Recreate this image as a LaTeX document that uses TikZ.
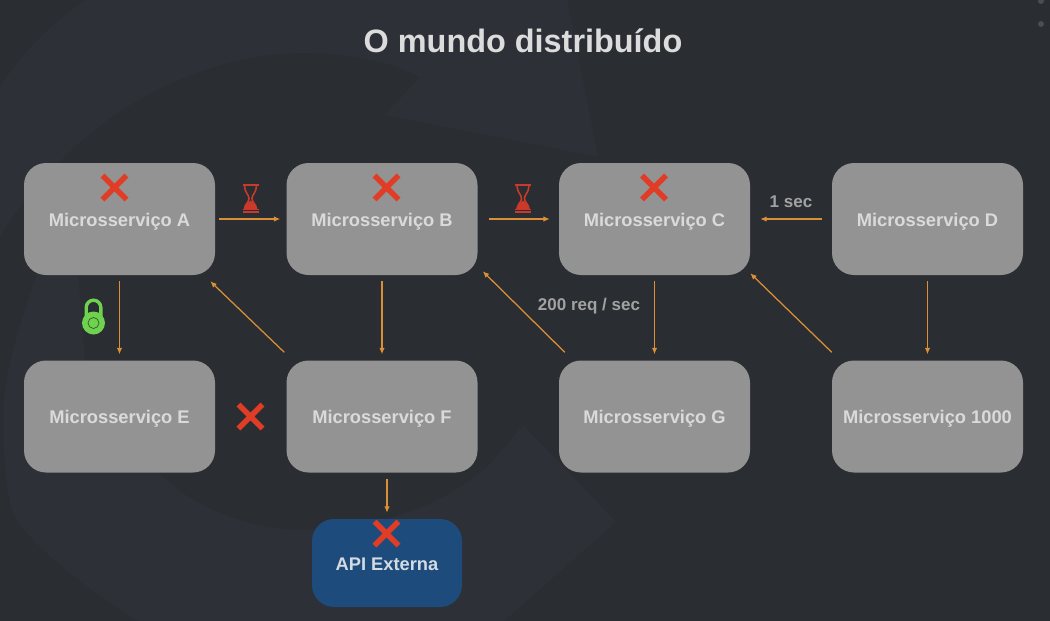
\documentclass[tikz,border=0pt]{standalone}
\usepackage{fontspec}
\setmainfont{Liberation Sans}
\usetikzlibrary{arrows.meta}
\definecolor{bgdark}{HTML}{2A2D31}
\definecolor{bglight}{HTML}{2D3036}
\definecolor{boxgrey}{HTML}{939393}
\definecolor{boxtxt}{HTML}{DADADA}
\definecolor{titletxt}{HTML}{DCDCDC}
\definecolor{apiblue}{HTML}{1C4B7C}
\definecolor{apitxt}{HTML}{D3DAE2}
\definecolor{arrowc}{HTML}{DB9038}
\definecolor{crossred}{HTML}{E03C26}
\definecolor{glassred}{HTML}{CB392B}
\definecolor{lockgreen}{HTML}{6FD24E}
\definecolor{lockline}{HTML}{2F5A2A}
\definecolor{lbl}{HTML}{A2A2A2}
\definecolor{dotc}{HTML}{4A4D52}
\tikzset{
  svc/.style={draw=none,fill=boxgrey,rounded corners=22pt,minimum width=191pt,minimum height=112pt,inner sep=0pt,text=boxtxt,font=\fontsize{18.3}{20}\selectfont\bfseries,text height=17pt,text depth=3pt},
  apibox/.style={svc,fill=apiblue,text=apitxt,minimum width=150pt,minimum height=88pt},
  arr/.style={draw=arrowc,line width=1.25pt,-{Latex[length=6.5pt,width=5.5pt]}},
  xmark/.pic={\draw[crossred,line width=5.4pt] (-12,-12)--(12,12) (-12,12)--(12,-12);},
  glass/.pic={
    \draw[glassred,line width=2pt] (-8,-13.5)--(8,-13.5) (-8,13.5)--(8,13.5);
    \draw[glassred,line width=1pt] (-8,10.6)--(8,10.6);
    \draw[glassred,line width=1.6pt] (-6,-13) .. controls (-6,-6) and (-1.5,-4) .. (-1.5,0) .. controls (-1.5,4) and (-6,6) .. (-6,10.5) -- (6,10.5) .. controls (6,6) and (1.5,4) .. (1.5,0) .. controls (1.5,-4) and (6,-6) .. (6,-13);
    \fill[glassred] (0,2) .. controls (2,4) and (6,7) .. (6,10.5) -- (-6,10.5) .. controls (-6,7) and (-2,4) .. (0,2) -- cycle;
  },
  lockpic/.pic={
    \draw[lockgreen,line width=3.4pt] (-7.3,2) -- (-7.3,-9.5) arc[start angle=180,end angle=360,radius=7.3] -- (7.3,2);
    \fill[lockgreen] (0,6) circle[radius=11.5];
    \draw[lockline,line width=.7pt] (0,6) circle[radius=5.5];
  },
  lab/.style={text=lbl,font=\fontsize{17}{19}\selectfont\bfseries,inner sep=0pt}
}
\begin{document}
\begin{tikzpicture}[x=1pt,y=-1pt]
\useasboundingbox (0,0) rectangle (1050,621);
\fill[bgdark] (0,0) rectangle (1050,621);
% faint background mark: light swirl, dark blade, dark left sliver
\fill[bglight] (85,0) .. controls (50,25) and (20,55) .. (0,87) -- (0,621) -- (504,621) -- (616,522) -- (523,425) -- (598,157) -- (567,0) -- cycle;
\fill[bgdark] (0,237) .. controls (18,205) and (70,140) .. (134,103) .. controls (190,70) and (250,53) .. (304,53) .. controls (350,53) and (390,62) .. (420,77) -- (384,115) -- (598,157) -- (523,425) -- (491,463) .. controls (440,510) and (370,530) .. (290,530) .. controls (240,525) and (190,505) .. (160,473) .. controls (115,430) and (90,390) .. (85,360) -- (78,270) -- (0,270) -- cycle;
\fill[bgdark] (0,270) -- (38,270) .. controls (25,310) and (8,355) .. (4,400) .. controls (2,450) and (6,495) .. (13,513) .. controls (25,540) and (80,585) .. (138,621) -- (0,621) -- cycle;
\fill[dotc] (1041,1) circle[radius=3] (1041,24) circle[radius=3];

\node[text=titletxt,font=\fontsize{32.4}{36}\selectfont\bfseries,inner sep=0pt] (title) at (523,41) {O mundo distribuído};

\node[svc] (a) at (119.5,219) {Microsserviço A};
\node[svc] (b) at (382,219) {Microsserviço B};
\node[svc] (c) at (654.5,219) {Microsserviço C};
\node[svc] (d) at (927.5,219) {Microsserviço D};
\node[svc] (e) at (119.5,416.5) {Microsserviço E};
\node[svc] (f) at (382,416.5) {Microsserviço F};
\node[svc] (g) at (654.5,416.5) {Microsserviço G};
\node[svc] (k) at (927.5,416.5) {Microsserviço 1000};
\node[apibox] (api) at (387,563) {API Externa};

\draw[arr,shorten <=4pt,shorten >=6pt] (a) -- (b);
\draw[arr,shorten <=11pt,shorten >=9pt] (b) -- (c);
\draw[arr,shorten <=10pt,shorten >=10pt] (d) -- (c);
\draw[arr,shorten <=6pt,shorten >=6pt] (a) -- (e);
\draw[arr,shorten <=6pt,shorten >=6pt] (b) -- (f);
\draw[arr,shorten <=6pt,shorten >=6pt] (c) -- (g);
\draw[arr,shorten <=6pt,shorten >=6pt] (d) -- (k);
\draw[arr,shorten <=6pt,shorten >=6pt] (api.north |- f.south) -- (api.north);
\draw[arr] ([shift={(-2,-8)}]f.north west) -- ([shift={(-5,6)}]a.south east);
\draw[arr] ([shift={(6,-8)}]g.north west) -- ([shift={(5,-4)}]b.south east);
\draw[arr] ([shift={(0,-8)}]k.north west) -- ([shift={(0,-2)}]c.south east);

\node[lab] (sec) at (791,202) {1 sec};
\node[lab] (req) at (589,306) {200 req / sec};

\pic at (114.5,187.5) {xmark};
\pic at (386.5,187.5) {xmark};
\pic at (654,187.5) {xmark};
\pic at (250.5,416.5) {xmark};
\pic at (386.5,533.5) {xmark};
\pic at (250.5,198.5) {glass};
\pic at (523,198.5) {glass};
\pic at (93.5,317) {lockpic};
\end{tikzpicture}
\end{document}
